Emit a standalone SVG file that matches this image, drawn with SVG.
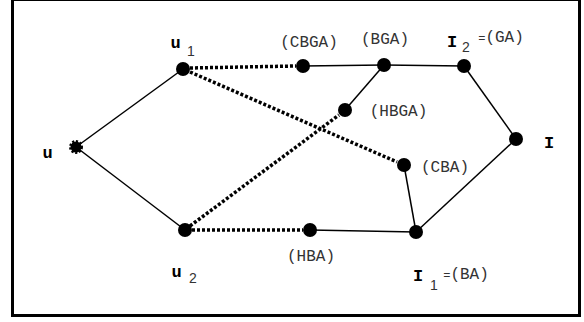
<svg xmlns="http://www.w3.org/2000/svg" width="584" height="322" viewBox="0 0 584 322">
  <style>
    .frame { fill: #ffffff; stroke: #000000; stroke-width: 3; }
    .edge { stroke: #000000; stroke-width: 1.5; fill: none; }
    .dot-edge { stroke: #000000; stroke-width: 3.5; stroke-dasharray: 3 2; fill: none; }
    .node { fill: #000000; }
    .star { fill: #000000; stroke: #000000; stroke-width: 3; stroke-dasharray: 2 1.6; }
    .lbl { font-family: "Liberation Mono", "Courier New", monospace; font-size: 16px; fill: #333333; text-anchor: middle; }
    .var { font-family: "Liberation Mono", "Courier New", monospace; font-size: 17px; font-weight: bold; fill: #000000; text-anchor: middle; }
    .sub { font-family: "Liberation Sans", Arial, sans-serif; font-size: 14px; fill: #333333; }
    .eq { font-size: 12px; }
  </style>

  <rect class="frame" x="12.5" y="-0.5" width="567" height="316"/>

  <g id="connectors">
    <line class="edge" x1="76" y1="147" x2="183" y2="69"/>
    <line class="edge" x1="76" y1="147" x2="185" y2="230"/>
    <line class="edge" x1="303" y1="66" x2="384" y2="65"/>
    <line class="edge" x1="384" y1="65" x2="464" y2="66"/>
    <line class="edge" x1="384" y1="65" x2="345" y2="110"/>
    <line class="edge" x1="464" y1="66" x2="516" y2="139"/>
    <line class="edge" x1="516" y1="139" x2="416" y2="232"/>
    <line class="edge" x1="404" y1="165" x2="416" y2="232"/>
    <line class="edge" x1="310" y1="230" x2="416" y2="232"/>
    <line class="dot-edge" x1="190" y1="68" x2="296" y2="66"/>
    <line class="dot-edge" x1="190" y1="72" x2="397" y2="162"/>
    <line class="dot-edge" x1="190" y1="226" x2="339" y2="115"/>
    <line class="dot-edge" x1="192" y1="230" x2="303" y2="230"/>
  </g>

  <g id="node-u">
    <circle class="star" cx="76" cy="147" r="5.5"/>
    <text class="var" x="47.5" y="158">u</text>
  </g>
  <g id="node-u1">
    <circle class="node" cx="183" cy="69" r="7"/>
    <text class="var" x="175.5" y="48">u</text>
    <text class="sub" x="187" y="56">1</text>
  </g>
  <g id="node-u2">
    <circle class="node" cx="185" cy="230" r="7"/>
    <text class="var" x="176.5" y="277">u</text>
    <text class="sub" x="189" y="283">2</text>
  </g>
  <g id="node-cbga">
    <circle class="node" cx="303" cy="66" r="7"/>
    <text class="lbl" x="309" y="47">(CBGA)</text>
  </g>
  <g id="node-bga">
    <circle class="node" cx="384" cy="65" r="7"/>
    <text class="lbl" x="385" y="44">(BGA)</text>
  </g>
  <g id="node-i2">
    <circle class="node" cx="464" cy="66" r="7"/>
    <text class="var" x="452" y="47">I</text>
    <text class="sub" x="462" y="52">2</text>
    <text class="lbl" x="501" y="42"><tspan class="eq">=</tspan>(GA)</text>
  </g>
  <g id="node-hbga">
    <circle class="node" cx="345" cy="110" r="7"/>
    <text class="lbl" x="398.5" y="116">(HBGA)</text>
  </g>
  <g id="node-i">
    <circle class="node" cx="516" cy="139" r="7"/>
    <text class="var" x="549" y="148">I</text>
  </g>
  <g id="node-cba">
    <circle class="node" cx="404" cy="165" r="7"/>
    <text class="lbl" x="445" y="172">(CBA)</text>
  </g>
  <g id="node-hba">
    <circle class="node" cx="310" cy="230" r="7"/>
    <text class="lbl" x="311" y="261">(HBA)</text>
  </g>
  <g id="node-i1">
    <circle class="node" cx="416" cy="232" r="7"/>
    <text class="var" x="418" y="281">I</text>
    <text class="sub" x="430" y="290">1</text>
    <text class="lbl" x="466" y="279"><tspan class="eq">=</tspan>(BA)</text>
  </g>
</svg>
